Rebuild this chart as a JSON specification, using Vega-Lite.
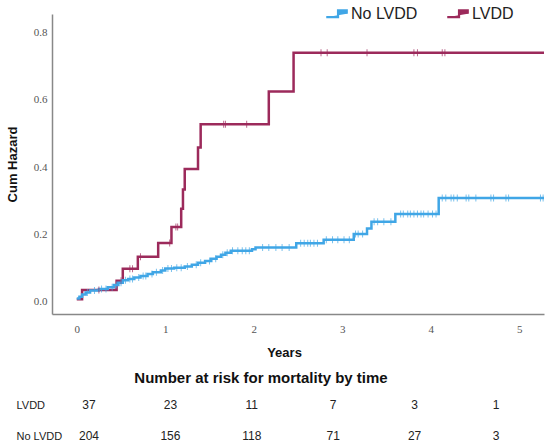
{
  "$schema": "https://vega.github.io/schema/vega-lite/v6.json",
  "padding": {"left": 6, "top": 2, "right": 5, "bottom": 0},
  "background": "white",
  "config": {
    "view": {"stroke": null},
    "font": "Liberation Sans",
    "axis": {"grid": false, "ticks": false}
  },
  "datasets": {
    "km": [
      {"t": 0, "h": 0.008, "group": "LVDD"},
      {"t": 0.06, "h": 0.035, "group": "LVDD"},
      {"t": 0.45, "h": 0.063, "group": "LVDD"},
      {"t": 0.52, "h": 0.098, "group": "LVDD"},
      {"t": 0.69, "h": 0.134, "group": "LVDD"},
      {"t": 0.92, "h": 0.175, "group": "LVDD"},
      {"t": 1.07, "h": 0.222, "group": "LVDD"},
      {"t": 1.18, "h": 0.276, "group": "LVDD"},
      {"t": 1.2, "h": 0.333, "group": "LVDD"},
      {"t": 1.22, "h": 0.394, "group": "LVDD"},
      {"t": 1.37, "h": 0.458, "group": "LVDD"},
      {"t": 1.4, "h": 0.527, "group": "LVDD"},
      {"t": 2.17, "h": 0.624, "group": "LVDD"},
      {"t": 2.45, "h": 0.739, "group": "LVDD"},
      {"t": 5.28, "h": 0.739, "group": "LVDD"},
      {"t": 0, "h": 0.01, "group": "No LVDD"},
      {"t": 0.03, "h": 0.015, "group": "No LVDD"},
      {"t": 0.06, "h": 0.022, "group": "No LVDD"},
      {"t": 0.1, "h": 0.028, "group": "No LVDD"},
      {"t": 0.15, "h": 0.034, "group": "No LVDD"},
      {"t": 0.25, "h": 0.038, "group": "No LVDD"},
      {"t": 0.35, "h": 0.043, "group": "No LVDD"},
      {"t": 0.42, "h": 0.05, "group": "No LVDD"},
      {"t": 0.47, "h": 0.057, "group": "No LVDD"},
      {"t": 0.52, "h": 0.064, "group": "No LVDD"},
      {"t": 0.58, "h": 0.068, "group": "No LVDD"},
      {"t": 0.65, "h": 0.072, "group": "No LVDD"},
      {"t": 0.72, "h": 0.077, "group": "No LVDD"},
      {"t": 0.8, "h": 0.083, "group": "No LVDD"},
      {"t": 0.86, "h": 0.088, "group": "No LVDD"},
      {"t": 0.95, "h": 0.093, "group": "No LVDD"},
      {"t": 1.0, "h": 0.099, "group": "No LVDD"},
      {"t": 1.1, "h": 0.101, "group": "No LVDD"},
      {"t": 1.22, "h": 0.105, "group": "No LVDD"},
      {"t": 1.3, "h": 0.11, "group": "No LVDD"},
      {"t": 1.37, "h": 0.116, "group": "No LVDD"},
      {"t": 1.45, "h": 0.121, "group": "No LVDD"},
      {"t": 1.52, "h": 0.128, "group": "No LVDD"},
      {"t": 1.58, "h": 0.134, "group": "No LVDD"},
      {"t": 1.63, "h": 0.14, "group": "No LVDD"},
      {"t": 1.68, "h": 0.146, "group": "No LVDD"},
      {"t": 1.74, "h": 0.152, "group": "No LVDD"},
      {"t": 1.98, "h": 0.156, "group": "No LVDD"},
      {"t": 2.02, "h": 0.161, "group": "No LVDD"},
      {"t": 2.48, "h": 0.174, "group": "No LVDD"},
      {"t": 2.79, "h": 0.184, "group": "No LVDD"},
      {"t": 3.13, "h": 0.201, "group": "No LVDD"},
      {"t": 3.28, "h": 0.218, "group": "No LVDD"},
      {"t": 3.33, "h": 0.238, "group": "No LVDD"},
      {"t": 3.6, "h": 0.261, "group": "No LVDD"},
      {"t": 4.09, "h": 0.308, "group": "No LVDD"},
      {"t": 5.28, "h": 0.308, "group": "No LVDD"}
    ],
    "cens": [
      {"t": 0.25, "h": 0.035, "group": "LVDD"},
      {"t": 0.5, "h": 0.063, "group": "LVDD"},
      {"t": 0.6, "h": 0.098, "group": "LVDD"},
      {"t": 0.63, "h": 0.098, "group": "LVDD"},
      {"t": 0.72, "h": 0.134, "group": "LVDD"},
      {"t": 1.05, "h": 0.175, "group": "LVDD"},
      {"t": 1.12, "h": 0.222, "group": "LVDD"},
      {"t": 1.14, "h": 0.222, "group": "LVDD"},
      {"t": 1.66, "h": 0.527, "group": "LVDD"},
      {"t": 1.68, "h": 0.527, "group": "LVDD"},
      {"t": 1.92, "h": 0.527, "group": "LVDD"},
      {"t": 2.76, "h": 0.739, "group": "LVDD"},
      {"t": 2.83, "h": 0.739, "group": "LVDD"},
      {"t": 3.28, "h": 0.739, "group": "LVDD"},
      {"t": 3.81, "h": 0.739, "group": "LVDD"},
      {"t": 3.85, "h": 0.739, "group": "LVDD"},
      {"t": 4.13, "h": 0.739, "group": "LVDD"},
      {"t": 4.16, "h": 0.739, "group": "LVDD"},
      {"t": 0.12, "h": 0.028, "group": "No LVDD"},
      {"t": 0.2, "h": 0.034, "group": "No LVDD"},
      {"t": 0.28, "h": 0.038, "group": "No LVDD"},
      {"t": 0.33, "h": 0.038, "group": "No LVDD"},
      {"t": 0.4, "h": 0.043, "group": "No LVDD"},
      {"t": 0.45, "h": 0.05, "group": "No LVDD"},
      {"t": 0.5, "h": 0.057, "group": "No LVDD"},
      {"t": 0.55, "h": 0.064, "group": "No LVDD"},
      {"t": 0.6, "h": 0.068, "group": "No LVDD"},
      {"t": 0.63, "h": 0.068, "group": "No LVDD"},
      {"t": 0.7, "h": 0.072, "group": "No LVDD"},
      {"t": 0.75, "h": 0.077, "group": "No LVDD"},
      {"t": 0.78, "h": 0.077, "group": "No LVDD"},
      {"t": 0.85, "h": 0.083, "group": "No LVDD"},
      {"t": 0.9, "h": 0.088, "group": "No LVDD"},
      {"t": 0.97, "h": 0.093, "group": "No LVDD"},
      {"t": 1.03, "h": 0.099, "group": "No LVDD"},
      {"t": 1.07, "h": 0.099, "group": "No LVDD"},
      {"t": 1.13, "h": 0.101, "group": "No LVDD"},
      {"t": 1.18, "h": 0.101, "group": "No LVDD"},
      {"t": 1.25, "h": 0.105, "group": "No LVDD"},
      {"t": 1.35, "h": 0.11, "group": "No LVDD"},
      {"t": 1.4, "h": 0.116, "group": "No LVDD"},
      {"t": 1.5, "h": 0.121, "group": "No LVDD"},
      {"t": 1.57, "h": 0.128, "group": "No LVDD"},
      {"t": 1.65, "h": 0.14, "group": "No LVDD"},
      {"t": 1.7, "h": 0.146, "group": "No LVDD"},
      {"t": 1.76, "h": 0.152, "group": "No LVDD"},
      {"t": 1.82, "h": 0.152, "group": "No LVDD"},
      {"t": 1.87, "h": 0.152, "group": "No LVDD"},
      {"t": 1.91, "h": 0.152, "group": "No LVDD"},
      {"t": 1.95, "h": 0.152, "group": "No LVDD"},
      {"t": 2.1, "h": 0.161, "group": "No LVDD"},
      {"t": 2.17, "h": 0.161, "group": "No LVDD"},
      {"t": 2.25, "h": 0.161, "group": "No LVDD"},
      {"t": 2.32, "h": 0.161, "group": "No LVDD"},
      {"t": 2.4, "h": 0.161, "group": "No LVDD"},
      {"t": 2.53, "h": 0.174, "group": "No LVDD"},
      {"t": 2.57, "h": 0.174, "group": "No LVDD"},
      {"t": 2.61, "h": 0.174, "group": "No LVDD"},
      {"t": 2.64, "h": 0.174, "group": "No LVDD"},
      {"t": 2.68, "h": 0.174, "group": "No LVDD"},
      {"t": 2.72, "h": 0.174, "group": "No LVDD"},
      {"t": 2.82, "h": 0.184, "group": "No LVDD"},
      {"t": 2.89, "h": 0.184, "group": "No LVDD"},
      {"t": 2.95, "h": 0.184, "group": "No LVDD"},
      {"t": 3.02, "h": 0.184, "group": "No LVDD"},
      {"t": 3.08, "h": 0.184, "group": "No LVDD"},
      {"t": 3.15, "h": 0.201, "group": "No LVDD"},
      {"t": 3.18, "h": 0.201, "group": "No LVDD"},
      {"t": 3.23, "h": 0.201, "group": "No LVDD"},
      {"t": 3.36, "h": 0.238, "group": "No LVDD"},
      {"t": 3.4, "h": 0.238, "group": "No LVDD"},
      {"t": 3.47, "h": 0.238, "group": "No LVDD"},
      {"t": 3.55, "h": 0.238, "group": "No LVDD"},
      {"t": 3.66, "h": 0.261, "group": "No LVDD"},
      {"t": 3.69, "h": 0.261, "group": "No LVDD"},
      {"t": 3.74, "h": 0.261, "group": "No LVDD"},
      {"t": 3.77, "h": 0.261, "group": "No LVDD"},
      {"t": 3.81, "h": 0.261, "group": "No LVDD"},
      {"t": 3.85, "h": 0.261, "group": "No LVDD"},
      {"t": 3.89, "h": 0.261, "group": "No LVDD"},
      {"t": 3.92, "h": 0.261, "group": "No LVDD"},
      {"t": 3.97, "h": 0.261, "group": "No LVDD"},
      {"t": 4.02, "h": 0.261, "group": "No LVDD"},
      {"t": 4.06, "h": 0.261, "group": "No LVDD"},
      {"t": 4.13, "h": 0.308, "group": "No LVDD"},
      {"t": 4.17, "h": 0.308, "group": "No LVDD"},
      {"t": 4.23, "h": 0.308, "group": "No LVDD"},
      {"t": 4.26, "h": 0.308, "group": "No LVDD"},
      {"t": 4.3, "h": 0.308, "group": "No LVDD"},
      {"t": 4.4, "h": 0.308, "group": "No LVDD"},
      {"t": 4.43, "h": 0.308, "group": "No LVDD"},
      {"t": 4.51, "h": 0.308, "group": "No LVDD"},
      {"t": 4.68, "h": 0.308, "group": "No LVDD"},
      {"t": 4.71, "h": 0.308, "group": "No LVDD"},
      {"t": 4.85, "h": 0.308, "group": "No LVDD"},
      {"t": 4.88, "h": 0.308, "group": "No LVDD"},
      {"t": 5.24, "h": 0.308, "group": "No LVDD"},
      {"t": 5.27, "h": 0.308, "group": "No LVDD"}
    ],
    "risk": [
      {"t": 0, "n": 37, "group": "LVDD"},
      {"t": 1, "n": 23, "group": "LVDD"},
      {"t": 2, "n": 11, "group": "LVDD"},
      {"t": 3, "n": 7, "group": "LVDD"},
      {"t": 4, "n": 3, "group": "LVDD"},
      {"t": 5, "n": 1, "group": "LVDD"},
      {"t": 0, "n": 204, "group": "No LVDD"},
      {"t": 1, "n": 156, "group": "No LVDD"},
      {"t": 2, "n": 118, "group": "No LVDD"},
      {"t": 3, "n": 71, "group": "No LVDD"},
      {"t": 4, "n": 27, "group": "No LVDD"},
      {"t": 5, "n": 3, "group": "No LVDD"}
    ]
  },
  "vconcat": [
    {
      "width": 492,
      "height": 300,
      "layer": [
        {
          "data": {"name": "km"},
          "mark": {"type": "line", "interpolate": "step-after", "strokeWidth": 2.5},
          "encoding": {
            "x": {
              "field": "t",
              "type": "quantitative",
              "scale": {"domain": [-0.28, 5.28], "nice": false, "zero": false},
              "axis": {
                "values": [0, 1, 2, 3, 4, 5],
                "format": "d",
                "domainColor": "#888",
                "domainWidth": 1.5,
                "labelFont": "Liberation Serif",
                "labelFontSize": 11,
                "labelColor": "#555",
                "labelPadding": 9,
                "title": "Years",
                "titleFontSize": 13,
                "titleFontWeight": "bold",
                "titleColor": "#111",
                "titleX": 232,
                "titlePadding": 12
              }
            },
            "y": {
              "field": "h",
              "type": "quantitative",
              "scale": {"domain": [-0.036, 0.854], "nice": false, "zero": false},
              "axis": {
                "values": [0, 0.2, 0.4, 0.6, 0.8],
                "format": ".1f",
                "domainColor": "#888",
                "domainWidth": 1.5,
                "labelFont": "Liberation Serif",
                "labelFontSize": 11,
                "labelColor": "#555",
                "labelPadding": 5,
                "title": "Cum Hazard",
                "titleFontSize": 13,
                "titleFontWeight": "bold",
                "titleColor": "#111",
                "titlePadding": 14
              }
            },
            "color": {
              "field": "group",
              "type": "nominal",
              "scale": {"domain": ["No LVDD", "LVDD"], "range": ["#40a6e6", "#9c2a5b"]},
              "legend": {
                "title": null,
                "orient": "none",
                "direction": "horizontal",
                "legendX": 273,
                "legendY": -12,
                "padding": 0,
                "labelFontSize": 16,
                "labelColor": "#222",
                "labelOffset": 3,
                "columnPadding": 24,
                "symbolType": "M-1,0.33H0.15V-0.33H1V0",
                "symbolSize": 420,
                "symbolStrokeWidth": 2.2
              }
            },
            "order": {"field": "t", "type": "quantitative"}
          }
        },
        {
          "data": {"name": "cens"},
          "mark": {"type": "tick", "orient": "vertical", "size": 7, "thickness": 1},
          "encoding": {
            "x": {"field": "t", "type": "quantitative"},
            "y": {"field": "h", "type": "quantitative"},
            "color": {"field": "group", "type": "nominal", "legend": null}
          }
        }
      ]
    },
    {
      "data": {"name": "risk"},
      "width": 492,
      "height": 31,
      "title": {
        "text": "Number at risk for mortality by time",
        "fontSize": 15,
        "fontWeight": "bold",
        "color": "#111",
        "anchor": "middle",
        "dx": -37,
        "offset": 13
      },
      "mark": {"type": "text", "fontSize": 12, "color": "#222"},
      "encoding": {
        "x": {
          "field": "t",
          "type": "quantitative",
          "scale": {"domain": [-0.4545, 5.59], "nice": false, "zero": false},
          "axis": null
        },
        "y": {
          "field": "group",
          "type": "nominal",
          "sort": ["LVDD", "No LVDD"],
          "scale": {"type": "point", "padding": 0},
          "axis": {
            "title": null,
            "domain": false,
            "ticks": false,
            "labelAlign": "left",
            "labelPadding": 36,
            "labelFontSize": 11,
            "labelColor": "#222"
          }
        },
        "text": {"field": "n", "type": "quantitative"}
      }
    }
  ],
  "spacing": 12
}
